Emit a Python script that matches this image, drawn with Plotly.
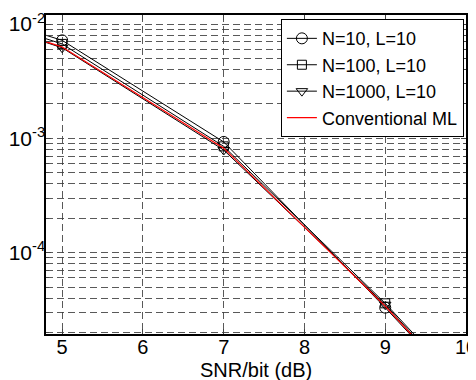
import plotly.graph_objects as go

snr = [3, 5, 7, 9, 11]
ber_n10 = [2.0e-2, 7.2e-3, 9.3e-4, 3.3e-5, 1.0e-6]
ber_n100 = [1.9e-2, 6.7e-3, 8.5e-4, 3.6e-5, 1.1e-6]
ber_n1000 = [1.8e-2, 6.2e-3, 7.9e-4, 3.5e-5, 1.0e-6]
ber_ml = [1.8e-2, 6.3e-3, 8.2e-4, 3.4e-5, 1.0e-6]

names = ["N=10, L=10", "N=100, L=10", "N=1000, L=10", "Conventional ML"]
x_ticks = [5, 6, 7, 8, 9, 10]
x_title = "SNR/bit (dB)"
y_ticks = [1e-4, 1e-3, 1e-2]
y_ticktext = ["10<sup>-4</sup>", "10<sup>-3</sup>", "10<sup>-2</sup>"]
minor_y = [m * 10.0 ** e for e in (-5, -4, -3) for m in range(2, 10)]

fig = go.Figure()
fig.add_trace(go.Scatter(x=snr, y=ber_n10, name=names[0], mode="lines+markers",
                         line=dict(color="black", width=1),
                         marker=dict(symbol="circle-open", size=11, color="black", line=dict(width=1))))
fig.add_trace(go.Scatter(x=snr, y=ber_n100, name=names[1], mode="lines+markers",
                         line=dict(color="black", width=1),
                         marker=dict(symbol="square-open", size=9, color="black", line=dict(width=1))))
fig.add_trace(go.Scatter(x=snr, y=ber_n1000, name=names[2], mode="lines+markers",
                         line=dict(color="black", width=1),
                         marker=dict(symbol="triangle-down-open", size=10, color="black", line=dict(width=1))))
fig.add_trace(go.Scatter(x=snr, y=ber_ml, name=names[3], mode="lines",
                         line=dict(color="red", width=1.2)))

grid_col = "rgba(60,60,60,0.85)"
fig.update_layout(
    width=476, height=380,
    margin=dict(l=38, r=18, t=7, b=54),
    paper_bgcolor="white", plot_bgcolor="white",
    font=dict(family="Arial, Liberation Sans, sans-serif", size=20, color="black"),
    showlegend=True,
    legend=dict(x=0.995, xanchor="right", y=0.987, yanchor="top",
                bgcolor="white", bordercolor="black", borderwidth=1,
                font=dict(size=18), tracegroupgap=0, itemwidth=30),
    xaxis=dict(range=[4.8, 10.0], tickvals=x_ticks, ticks="inside", ticklen=5,
               showline=True, linecolor="black", linewidth=1.5, mirror="allticks",
               showgrid=True, gridcolor=grid_col, griddash="7px,4px", gridwidth=1,
               zeroline=False, automargin=False, tickfont=dict(size=20),
               ticklabelstandoff=-6),
    yaxis=dict(type="log", range=[-4.712, -1.921], tickvals=y_ticks, ticktext=y_ticktext,
               ticks="inside", ticklen=5, automargin=False, ticklabelstandoff=-5,
               showline=True, linecolor="black", linewidth=1.5, mirror="allticks",
               showgrid=True, gridcolor=grid_col, griddash="7px,4px", gridwidth=1,
               zeroline=False, tickfont=dict(size=21),
               minor=dict(tickmode="array", tickvals=minor_y, ticks="inside", ticklen=3,
                          showgrid=True, gridcolor=grid_col, griddash="7px,4px", gridwidth=1)),
    annotations=[dict(text=x_title, xref="paper", yref="paper", x=0.5, y=-0.112,
                      xanchor="center", yanchor="middle", showarrow=False,
                      font=dict(size=20))],
)
fig.write_html("out.html")
